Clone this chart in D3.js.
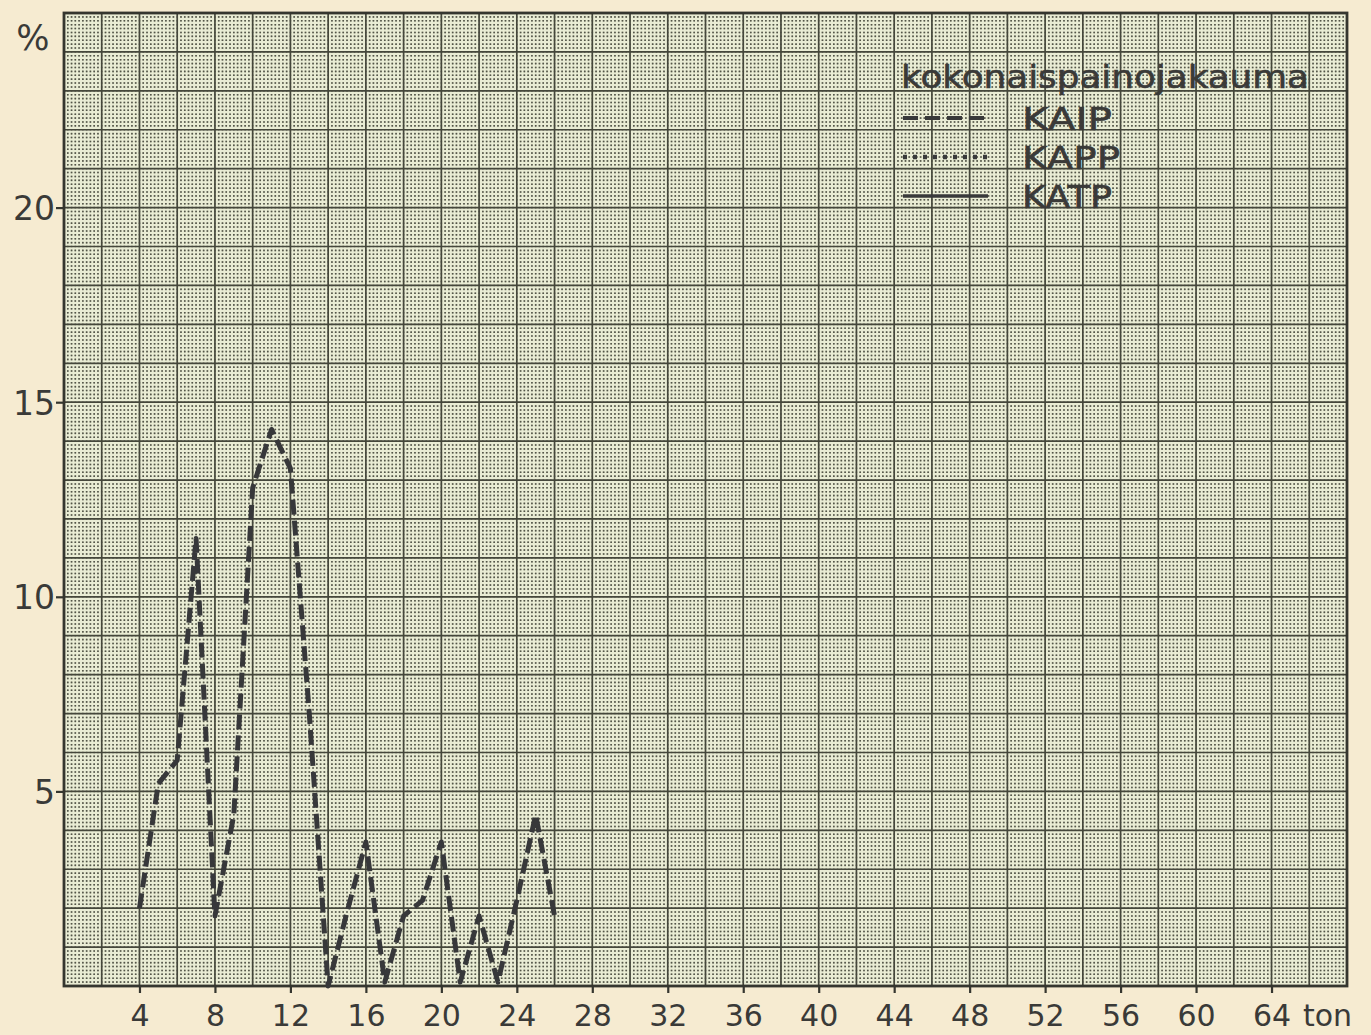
<!DOCTYPE html>
<html><head><meta charset="utf-8">
<script src="https://cdn.jsdelivr.net/npm/d3@7"></script>
<style>
html,body{margin:0;padding:0;background:#f6ebd1;}
svg{display:block;}
text{font-family:"DejaVu Sans",sans-serif;fill:#3a3a38;}
</style></head>
<body>
<svg id="chart" width="1371" height="1035"></svg>
<script>
// ---- data ----
const tons = [4,5,6,7,8,9,10,11,12,13,14,15,16,17,18,19,20,21,22,23,24,25,26];
const kaip = [2.0,5.2,5.8,11.5,1.8,4.4,12.8,14.3,13.3,7.0,0.0,1.9,3.7,0.1,1.8,2.2,3.7,0.1,1.8,0.1,2.2,4.4,1.8];
const xTickLabels = [4,8,12,16,20,24,28,32,36,40,44,48,52,56,60,64];
const yTickLabels = [5,10,15,20];
const legendTitle = "kokonaispainojakauma";
const legendNames = ["KAIP","KAPP","KATP"];
const xUnit = "ton";
const yUnit = "%";

// ---- layout ----
const L = 64, R = 1347, T = 13, B = 986;
const svg = d3.select("#chart");
const x = d3.scaleLinear().domain([0,68]).range([L,R]);
const y = d3.scaleLinear().domain([0,25]).range([B,T]);

svg.append("rect").attr("x",0).attr("y",0).attr("width",1371).attr("height",1035).attr("fill","#f6ebd1");
svg.append("rect").attr("x",L).attr("y",T).attr("width",R-L).attr("height",B-T).attr("fill","#e9ecd4");

const grid = svg.append("g");
const gridCol = "#45473b";
const xMinorStep = x(0.2)-x(0);
const yMinorStep = y(0)-y(0.1);
const dot = 1.6;
// minor dotted lines
const xMinor = d3.range(0,68.001,0.2).filter(v => Math.abs(v/2 - Math.round(v/2))>1e-6);
const yMinor = d3.range(0,25.001,0.1).filter(v => Math.abs(v - Math.round(v))>1e-6);
grid.selectAll(".vmin").data(xMinor).join("line")
  .attr("x1",d=>x(d)).attr("x2",d=>x(d)).attr("y1",T).attr("y2",B)
  .attr("stroke",gridCol).attr("stroke-width",1.5).attr("opacity",0.7)
  .attr("stroke-dasharray",`${dot},${yMinorStep-dot}`).attr("stroke-dashoffset",dot/2);
grid.selectAll(".hmin").data(yMinor).join("line")
  .attr("x1",L).attr("x2",R).attr("y1",d=>y(d)).attr("y2",d=>y(d))
  .attr("stroke",gridCol).attr("stroke-width",1.5).attr("opacity",0.7)
  .attr("stroke-dasharray",`${dot},${xMinorStep-dot}`).attr("stroke-dashoffset",dot/2);
// major lines
grid.selectAll(".vmaj").data(d3.range(2,68,2)).join("line")
  .attr("x1",d=>x(d)).attr("x2",d=>x(d)).attr("y1",T).attr("y2",B)
  .attr("stroke",gridCol).attr("stroke-width",1.7);
grid.selectAll(".hmaj").data(d3.range(1,25,1)).join("line")
  .attr("x1",L).attr("x2",R).attr("y1",d=>y(d)).attr("y2",d=>y(d))
  .attr("stroke",gridCol).attr("stroke-width",1.7);
// frame
svg.append("rect").attr("x",L).attr("y",T).attr("width",R-L).attr("height",B-T)
  .attr("fill","none").attr("stroke","#35362f").attr("stroke-width",2.8);

// axes
const xAxis = d3.axisBottom(x).tickValues(xTickLabels).tickSize(7).tickFormat(d3.format("d"));
const gx = svg.append("g").attr("transform",`translate(0,${B})`).call(xAxis);
gx.select(".domain").remove();
gx.selectAll(".tick line").attr("stroke","#35362f").attr("stroke-width",2.2);
gx.selectAll(".tick text").attr("y",40).attr("dy","0").style("font-size","30px")
  .style("font-family","'DejaVu Sans',sans-serif").attr("fill","#3a3a38");

const yAxis = d3.axisLeft(y).tickValues(yTickLabels).tickSize(8).tickFormat(d3.format("d"));
const gy = svg.append("g").attr("transform",`translate(${L},0)`).call(yAxis);
gy.select(".domain").remove();
gy.selectAll(".tick line").attr("stroke","#35362f").attr("stroke-width",2.2);
gy.selectAll(".tick text").attr("x",-9).attr("dy","0.36em").style("font-size","33px")
  .style("font-family","'DejaVu Sans',sans-serif").attr("fill","#3a3a38");

svg.append("text").attr("x",1303).attr("y",B+40).attr("text-anchor","start")
  .style("font-size","30px").text(xUnit);
svg.append("text").attr("x",33).attr("y",50).attr("text-anchor","middle")
  .style("font-size","35px").text(yUnit);

// data line
const line = d3.line().x((d,i)=>x(tons[i])).y(d=>y(d));
svg.append("path").datum(kaip).attr("d",line).attr("fill","none")
  .attr("stroke","#37383a").attr("stroke-width",5).attr("stroke-dasharray","15,6")
  .attr("stroke-linejoin","round").attr("stroke-linecap","butt");

// legend
const lg = svg.append("g");
lg.append("text").attr("x",901).attr("y",88).style("font-size","32px")
  .style("stroke","#3a3a38").style("stroke-width","0.6")
  .attr("textLength",408).attr("lengthAdjust","spacingAndGlyphs").text(legendTitle);
const styles = ["15,7","4,6",null];
const widths = [4,4.5,3.4];
legendNames.forEach((n,i)=>{
  const yy = 118 + i*39;
  const l = lg.append("line").attr("x1",903).attr("x2",988).attr("y1",yy).attr("y2",yy)
    .attr("stroke","#38393a").attr("stroke-width",widths[i]);
  if(styles[i]) l.attr("stroke-dasharray",styles[i]);
  lg.append("text").attr("x",1022).attr("y",yy+12).style("font-size","32px")
    .style("stroke","#3a3a38").style("stroke-width","0.6")
    .attr("textLength",n==="KAPP"?98:90).attr("lengthAdjust","spacingAndGlyphs").text(n);
});
</script>
</body></html>
